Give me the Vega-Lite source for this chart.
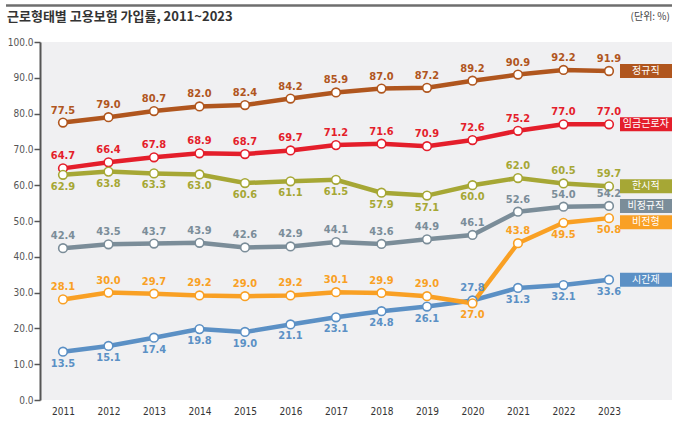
{
  "$schema": "https://vega.github.io/schema/vega-lite/v6.json",
  "width": 632,
  "height": 358,
  "autosize": "none",
  "padding": {"left": 40, "top": 42, "right": 7, "bottom": 22},
  "background": "white",
  "config": {
    "view": {"fill": "#f0f0f2", "stroke": null},
    "font": "DejaVu Sans Condensed, Liberation Sans Narrow, sans-serif",
    "axis": {"labelOverlap": false, "labelSeparation": 0, "labelBound": false},
    "axisY": {"labelOverlap": false, "tickCount": 11}
  },
  "data": {"values": [
    {"s":"정규직","year":2011,"v":77.5},{"s":"정규직","year":2012,"v":79.0},{"s":"정규직","year":2013,"v":80.7},{"s":"정규직","year":2014,"v":82.0},{"s":"정규직","year":2015,"v":82.4},{"s":"정규직","year":2016,"v":84.2},{"s":"정규직","year":2017,"v":85.9},{"s":"정규직","year":2018,"v":87.0},{"s":"정규직","year":2019,"v":87.2},{"s":"정규직","year":2020,"v":89.2},{"s":"정규직","year":2021,"v":90.9},{"s":"정규직","year":2022,"v":92.2},{"s":"정규직","year":2023,"v":91.9},
    {"s":"임금근로자","year":2011,"v":64.7},{"s":"임금근로자","year":2012,"v":66.4},{"s":"임금근로자","year":2013,"v":67.8},{"s":"임금근로자","year":2014,"v":68.9},{"s":"임금근로자","year":2015,"v":68.7},{"s":"임금근로자","year":2016,"v":69.7},{"s":"임금근로자","year":2017,"v":71.2},{"s":"임금근로자","year":2018,"v":71.6},{"s":"임금근로자","year":2019,"v":70.9},{"s":"임금근로자","year":2020,"v":72.6},{"s":"임금근로자","year":2021,"v":75.2},{"s":"임금근로자","year":2022,"v":77.0},{"s":"임금근로자","year":2023,"v":77.0},
    {"s":"한시적","year":2011,"v":62.9},{"s":"한시적","year":2012,"v":63.8},{"s":"한시적","year":2013,"v":63.3},{"s":"한시적","year":2014,"v":63.0},{"s":"한시적","year":2015,"v":60.6},{"s":"한시적","year":2016,"v":61.1},{"s":"한시적","year":2017,"v":61.5},{"s":"한시적","year":2018,"v":57.9},{"s":"한시적","year":2019,"v":57.1},{"s":"한시적","year":2020,"v":60.0},{"s":"한시적","year":2021,"v":62.0},{"s":"한시적","year":2022,"v":60.5},{"s":"한시적","year":2023,"v":59.7},
    {"s":"비정규직","year":2011,"v":42.4},{"s":"비정규직","year":2012,"v":43.5},{"s":"비정규직","year":2013,"v":43.7},{"s":"비정규직","year":2014,"v":43.9},{"s":"비정규직","year":2015,"v":42.6},{"s":"비정규직","year":2016,"v":42.9},{"s":"비정규직","year":2017,"v":44.1},{"s":"비정규직","year":2018,"v":43.6},{"s":"비정규직","year":2019,"v":44.9},{"s":"비정규직","year":2020,"v":46.1},{"s":"비정규직","year":2021,"v":52.6},{"s":"비정규직","year":2022,"v":54.0},{"s":"비정규직","year":2023,"v":54.2},
    {"s":"시간제","year":2011,"v":13.5},{"s":"시간제","year":2012,"v":15.1},{"s":"시간제","year":2013,"v":17.4},{"s":"시간제","year":2014,"v":19.8},{"s":"시간제","year":2015,"v":19.0},{"s":"시간제","year":2016,"v":21.1},{"s":"시간제","year":2017,"v":23.1},{"s":"시간제","year":2018,"v":24.8},{"s":"시간제","year":2019,"v":26.1},{"s":"시간제","year":2020,"v":27.8},{"s":"시간제","year":2021,"v":31.3},{"s":"시간제","year":2022,"v":32.1},{"s":"시간제","year":2023,"v":33.6},
    {"s":"비전형","year":2011,"v":28.1},{"s":"비전형","year":2012,"v":30.0},{"s":"비전형","year":2013,"v":29.7},{"s":"비전형","year":2014,"v":29.2},{"s":"비전형","year":2015,"v":29.0},{"s":"비전형","year":2016,"v":29.2},{"s":"비전형","year":2017,"v":30.1},{"s":"비전형","year":2018,"v":29.9},{"s":"비전형","year":2019,"v":29.0},{"s":"비전형","year":2020,"v":27.0},{"s":"비전형","year":2021,"v":43.8},{"s":"비전형","year":2022,"v":49.5},{"s":"비전형","year":2023,"v":50.8}
  ]},
  "layer": [
    {
      "data": {"values": [{}]},
      "mark": {"type": "rule", "color": "#6e6e6e", "strokeWidth": 2.5, "clip": false},
      "encoding": {
        "x": {"datum": 2009.748, "type": "quantitative", "scale": {"domain": [2010.495, 2024.385], "nice": false, "zero": false},
          "axis": {"values": [2011,2012,2013,2014,2015,2016,2017,2018,2019,2020,2021,2022,2023], "format": "d", "title": null, "grid": false, "domain": false, "ticks": false, "labelPadding": 6, "labelFontSize": 10, "labelColor": "#333333"}},
        "x2": {"datum": 2024.385},
        "y": {"datum": 110.2, "type": "quantitative", "scale": {"domain": [0, 100], "nice": false, "zero": true},
          "axis": {"values": [0,10,20,30,40,50,60,70,80,90,100], "format": ".1f", "title": null, "grid": false, "domainColor": "#555555", "domainWidth": 2, "tickColor": "#555555", "tickWidth": 1.5, "tickSize": 6, "labelPadding": 1, "labelFontSize": 10, "labelColor": "#555555", "labelFlush": false}}
      }
    },
    {
      "data": {"values": [{"t": "근로형태별 고용보험 가입률, 2011~2023"}]},
      "mark": {"type": "text", "align": "left", "baseline": "middle", "fontSize": 13, "fontWeight": "bold", "color": "#333333", "font": "Noto Sans CJK KR", "clip": false},
      "encoding": {
        "x": {"datum": 2009.77, "type": "quantitative"},
        "y": {"datum": 106.9, "type": "quantitative"},
        "text": {"field": "t"}
      }
    },
    {
      "data": {"values": [{"t": "(단위: %)"}]},
      "mark": {"type": "text", "align": "right", "baseline": "middle", "fontSize": 10, "color": "#444444", "font": "Noto Sans CJK KR", "clip": false},
      "encoding": {
        "x": {"datum": 2024.34, "type": "quantitative"},
        "y": {"datum": 106.9, "type": "quantitative"},
        "text": {"field": "t"}
      }
    },
    {
      "mark": {"type": "line", "strokeWidth": 4.5},
      "encoding": {
        "x": {"field": "year", "type": "quantitative"},
        "y": {"field": "v", "type": "quantitative"},
        "color": {"field": "s", "type": "nominal", "legend": null,
          "scale": {"domain": ["정규직","임금근로자","한시적","비정규직","시간제","비전형"], "range": ["#b0561e","#e41e2b","#a6a735","#7b8d99","#5b90c5","#f9a024"]}}
      }
    },
    {
      "mark": {"type": "point", "filled": true, "fill": "white", "size": 75, "strokeWidth": 1.6, "opacity": 1},
      "encoding": {
        "x": {"field": "year", "type": "quantitative"},
        "y": {"field": "v", "type": "quantitative"},
        "stroke": {"field": "s", "type": "nominal", "legend": null,
          "scale": {"domain": ["정규직","임금근로자","한시적","비정규직","시간제","비전형"], "range": ["#b0561e","#e41e2b","#a6a735","#7b8d99","#5b90c5","#f9a024"]}}
      }
    },
    {
      "transform": [{"filter": "!((datum.s=='한시적' && datum.year<=2020) || (datum.s=='비전형' && (datum.year==2020 || datum.year>=2022)) || (datum.s=='시간제' && datum.year!=2020))"}],
      "mark": {"type": "text", "dy": -12, "baseline": "middle", "fontSize": 11, "fontWeight": "bold"},
      "encoding": {
        "x": {"field": "year", "type": "quantitative"},
        "y": {"field": "v", "type": "quantitative"},
        "text": {"field": "v", "type": "quantitative", "format": ".1f"},
        "color": {"field": "s", "type": "nominal", "legend": null}
      }
    },
    {
      "transform": [{"filter": "(datum.s=='한시적' && datum.year<=2020) || (datum.s=='비전형' && (datum.year==2020 || datum.year>=2022)) || (datum.s=='시간제' && datum.year!=2020)"}],
      "mark": {"type": "text", "dy": 12, "baseline": "middle", "fontSize": 11, "fontWeight": "bold"},
      "encoding": {
        "x": {"field": "year", "type": "quantitative"},
        "y": {"field": "v", "type": "quantitative"},
        "text": {"field": "v", "type": "quantitative", "format": ".1f"},
        "color": {"field": "s", "type": "nominal", "legend": null}
      }
    },
    {
      "transform": [{"filter": "datum.year==2023 && datum.s!='비전형'"}],
      "mark": {"type": "rect", "yOffset": -7, "y2Offset": 7},
      "encoding": {
        "x": {"datum": 2023.242, "type": "quantitative"},
        "x2": {"datum": 2024.385},
        "y": {"field": "v", "type": "quantitative"},
        "y2": {"field": "v"},
        "color": {"field": "s", "type": "nominal", "legend": null}
      }
    },
    {
      "transform": [{"filter": "datum.year==2023 && datum.s=='비전형'"}],
      "mark": {"type": "rect", "yOffset": -3, "y2Offset": 11},
      "encoding": {
        "x": {"datum": 2023.242, "type": "quantitative"},
        "x2": {"datum": 2024.385},
        "y": {"field": "v", "type": "quantitative"},
        "y2": {"field": "v"},
        "color": {"field": "s", "type": "nominal", "legend": null}
      }
    },
    {
      "transform": [{"filter": "datum.year==2023 && datum.s!='비전형'"}],
      "mark": {"type": "text", "color": "white", "fontSize": 10, "baseline": "middle", "font": "Noto Sans CJK KR"},
      "encoding": {
        "x": {"datum": 2023.81, "type": "quantitative"},
        "y": {"field": "v", "type": "quantitative"},
        "text": {"field": "s"}
      }
    },
    {
      "transform": [{"filter": "datum.year==2023 && datum.s=='비전형'"}],
      "mark": {"type": "text", "color": "white", "fontSize": 10, "baseline": "middle", "font": "Noto Sans CJK KR", "dy": 4},
      "encoding": {
        "x": {"datum": 2023.81, "type": "quantitative"},
        "y": {"field": "v", "type": "quantitative"},
        "text": {"field": "s"}
      }
    }
  ]
}
